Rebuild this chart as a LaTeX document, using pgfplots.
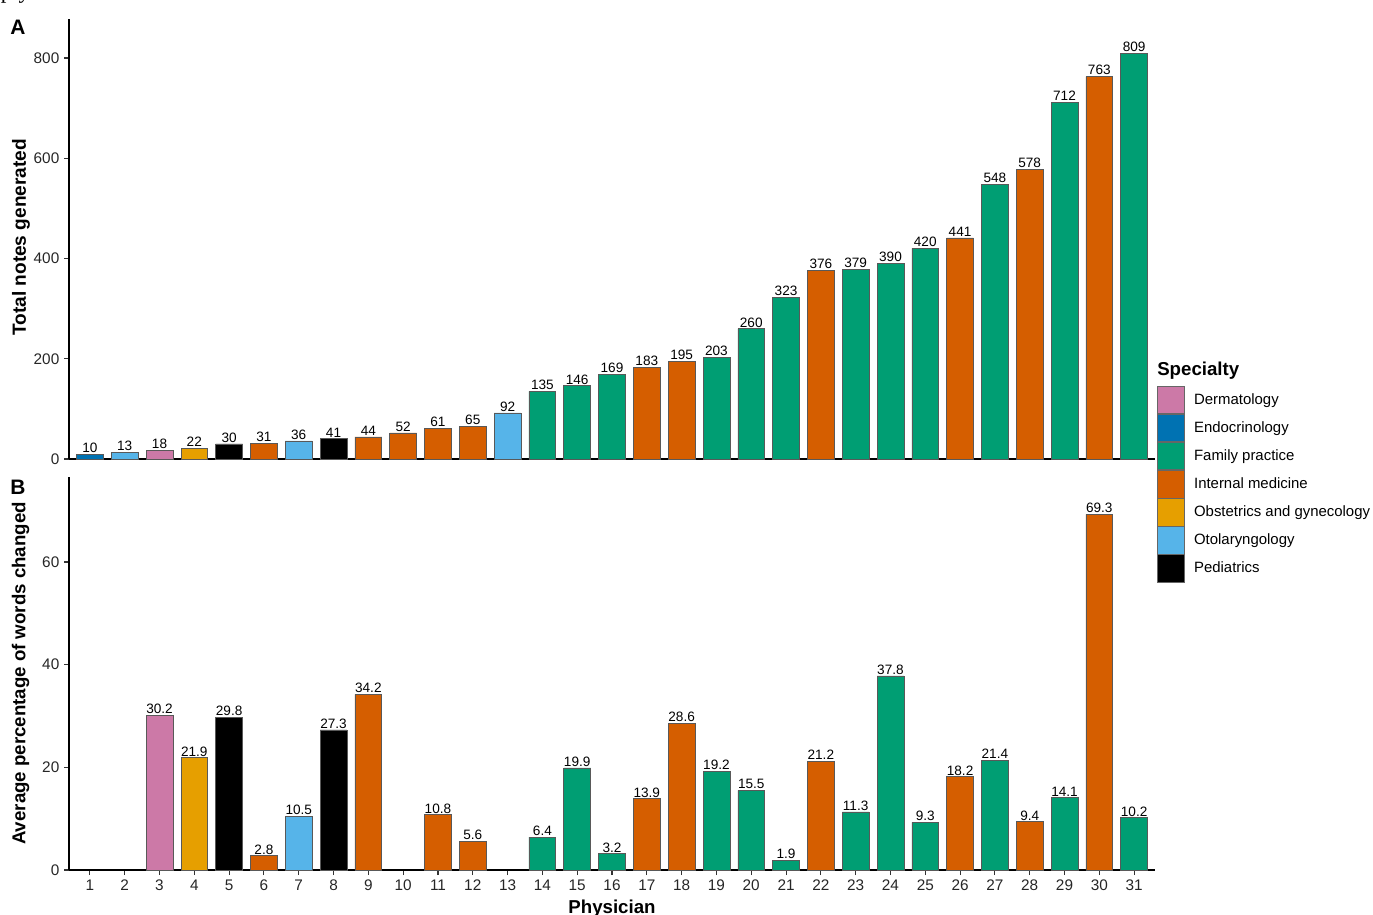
\documentclass[border=0pt]{standalone}
\usepackage{pgfplots}
\pgfplotsset{compat=1.18}
\usepackage{fontspec}
\setmainfont{Liberation Sans}
\newfontfamily\seriffont{Liberation Serif}
\definecolor{derm}{HTML}{CC79A7}
\definecolor{endo}{HTML}{0072B2}
\definecolor{fp}{HTML}{009E73}
\definecolor{im}{HTML}{D55E00}
\definecolor{ob}{HTML}{E69F00}
\definecolor{oto}{HTML}{56B4E9}
\definecolor{ped}{HTML}{000000}
\pgfplotsset{
  panel/.style={
    scale only axis, width=814.5pt, xmin=0.4, xmax=31.6, ymin=0,
    axis x line*=bottom, axis y line*=left,
    axis line style={-, line width=1.1pt, black},
    tick align=outside, major tick length=3.75pt,
    tick style={line width=0.8pt, black!80},
    ticklabel style={font=\fontsize{11.5}{13}\selectfont, text=black!85},
    /pgf/number format/assume math mode=true,
    ybar, bar width=0.77, bar shift=0pt,
    every axis plot/.append style={bar shift=0pt, draw=black!65, line width=0.5pt},
    nodes near coords,
    nodes near coords style={font=\fontsize{10.2}{11}\selectfont, anchor=south, inner sep=0.8pt, text=black},
    clip=false,
  }
}
\begin{document}
\begin{tikzpicture}
\useasboundingbox (0pt,0pt) rectangle (1029.75pt,685.5pt);
% Panel A
\begin{axis}[panel, at={(51.75pt,341.25pt)}, anchor=south west, height=330pt,
  ymax=877.8, ytick={0,200,400,600,800}, xtick=\empty,
  legend style={at={(axis description cs:1.0018,0.1659)}, anchor=north west,
    draw=none, fill=none, inner sep=0pt, outer sep=0pt, row sep=0pt,
    nodes={inner sep=0pt}, font=\fontsize{11.2}{13}\selectfont},
  legend cell align=left,
  legend image code/.code={\draw[#1, draw=black!60] (0pt,-10.27pt) rectangle (20.25pt,10.27pt); \path[draw=none, fill=none] (20.25pt,0pt) -- (27.6pt,0pt);},
]
\addplot[fill=derm] coordinates {(3,18)};
\addlegendentry{Dermatology}
\addplot[fill=endo] coordinates {(1,10)};
\addlegendentry{Endocrinology}
\addplot[fill=fp] coordinates {(14,135) (15,146) (16,169) (19,203) (20,260) (21,323) (23,379) (24,390) (25,420) (27,548) (29,712) (31,809)};
\addlegendentry{Family practice}
\addplot[fill=im] coordinates {(6,31) (9,44) (10,52) (11,61) (12,65) (17,183) (18,195) (22,376) (26,441) (28,578) (30,763)};
\addlegendentry{Internal medicine}
\addplot[fill=ob] coordinates {(4,22)};
\addlegendentry{Obstetrics and gynecology}
\addplot[fill=oto] coordinates {(2,13) (7,36) (13,92)};
\addlegendentry{Otolaryngology}
\addplot[fill=ped] coordinates {(5,30) (8,41)};
\addlegendentry{Pediatrics}
\end{axis}
% Panel B
\begin{axis}[panel, at={(51.75pt,33pt)}, anchor=south west, height=294.75pt,
  ymax=76.56, ytick={0,20,40,60}, xtick={1,...,31}]
\addplot[fill=derm] coordinates {(3,30.2)};
\addplot[fill=fp] coordinates {(14,6.4) (15,19.9) (16,3.2) (19,19.2) (20,15.5) (21,1.9) (23,11.3) (24,37.8) (25,9.3) (27,21.4) (29,14.1) (31,10.2)};
\addplot[fill=im] coordinates {(6,2.8) (9,34.2) (11,10.8) (12,5.6) (17,13.9) (18,28.6) (22,21.2) (26,18.2) (28,9.4) (30,69.3)};
\addplot[fill=ob] coordinates {(4,21.9)};
\addplot[fill=oto] coordinates {(7,10.5)};
\addplot[fill=ped] coordinates {(5,29.8) (8,27.3)};
\end{axis}
% titles and labels
\node[anchor=base west, inner sep=0pt, font=\bfseries\fontsize{15.7}{16}\selectfont] at (7.5pt,659.25pt) {A};
\node[anchor=base west, inner sep=0pt, font=\bfseries\fontsize{15.7}{16}\selectfont] at (7.5pt,314.25pt) {B};
\node[rotate=90, anchor=base, inner sep=0pt, font=\bfseries\fontsize{14.3}{15}\selectfont] at (19.5pt,507.5pt) {Total notes generated};
\node[rotate=90, anchor=base, inner sep=0pt, font=\bfseries\fontsize{14}{15}\selectfont] at (19.1pt,180.4pt) {Average percentage of words changed};
\node[anchor=base, inner sep=0pt, font=\bfseries\fontsize{14}{15}\selectfont] at (459pt,0.4pt) {Physician};
\node[anchor=base west, inner sep=0pt, font=\bfseries\fontsize{14}{15}\selectfont] at (867.75pt,403.7pt) {Specialty};
\node[anchor=base west, inner sep=0pt, font=\seriffont\fontsize{17}{17}\selectfont] at (0.5pt,686.5pt) {ply};
\end{tikzpicture}
\end{document}
